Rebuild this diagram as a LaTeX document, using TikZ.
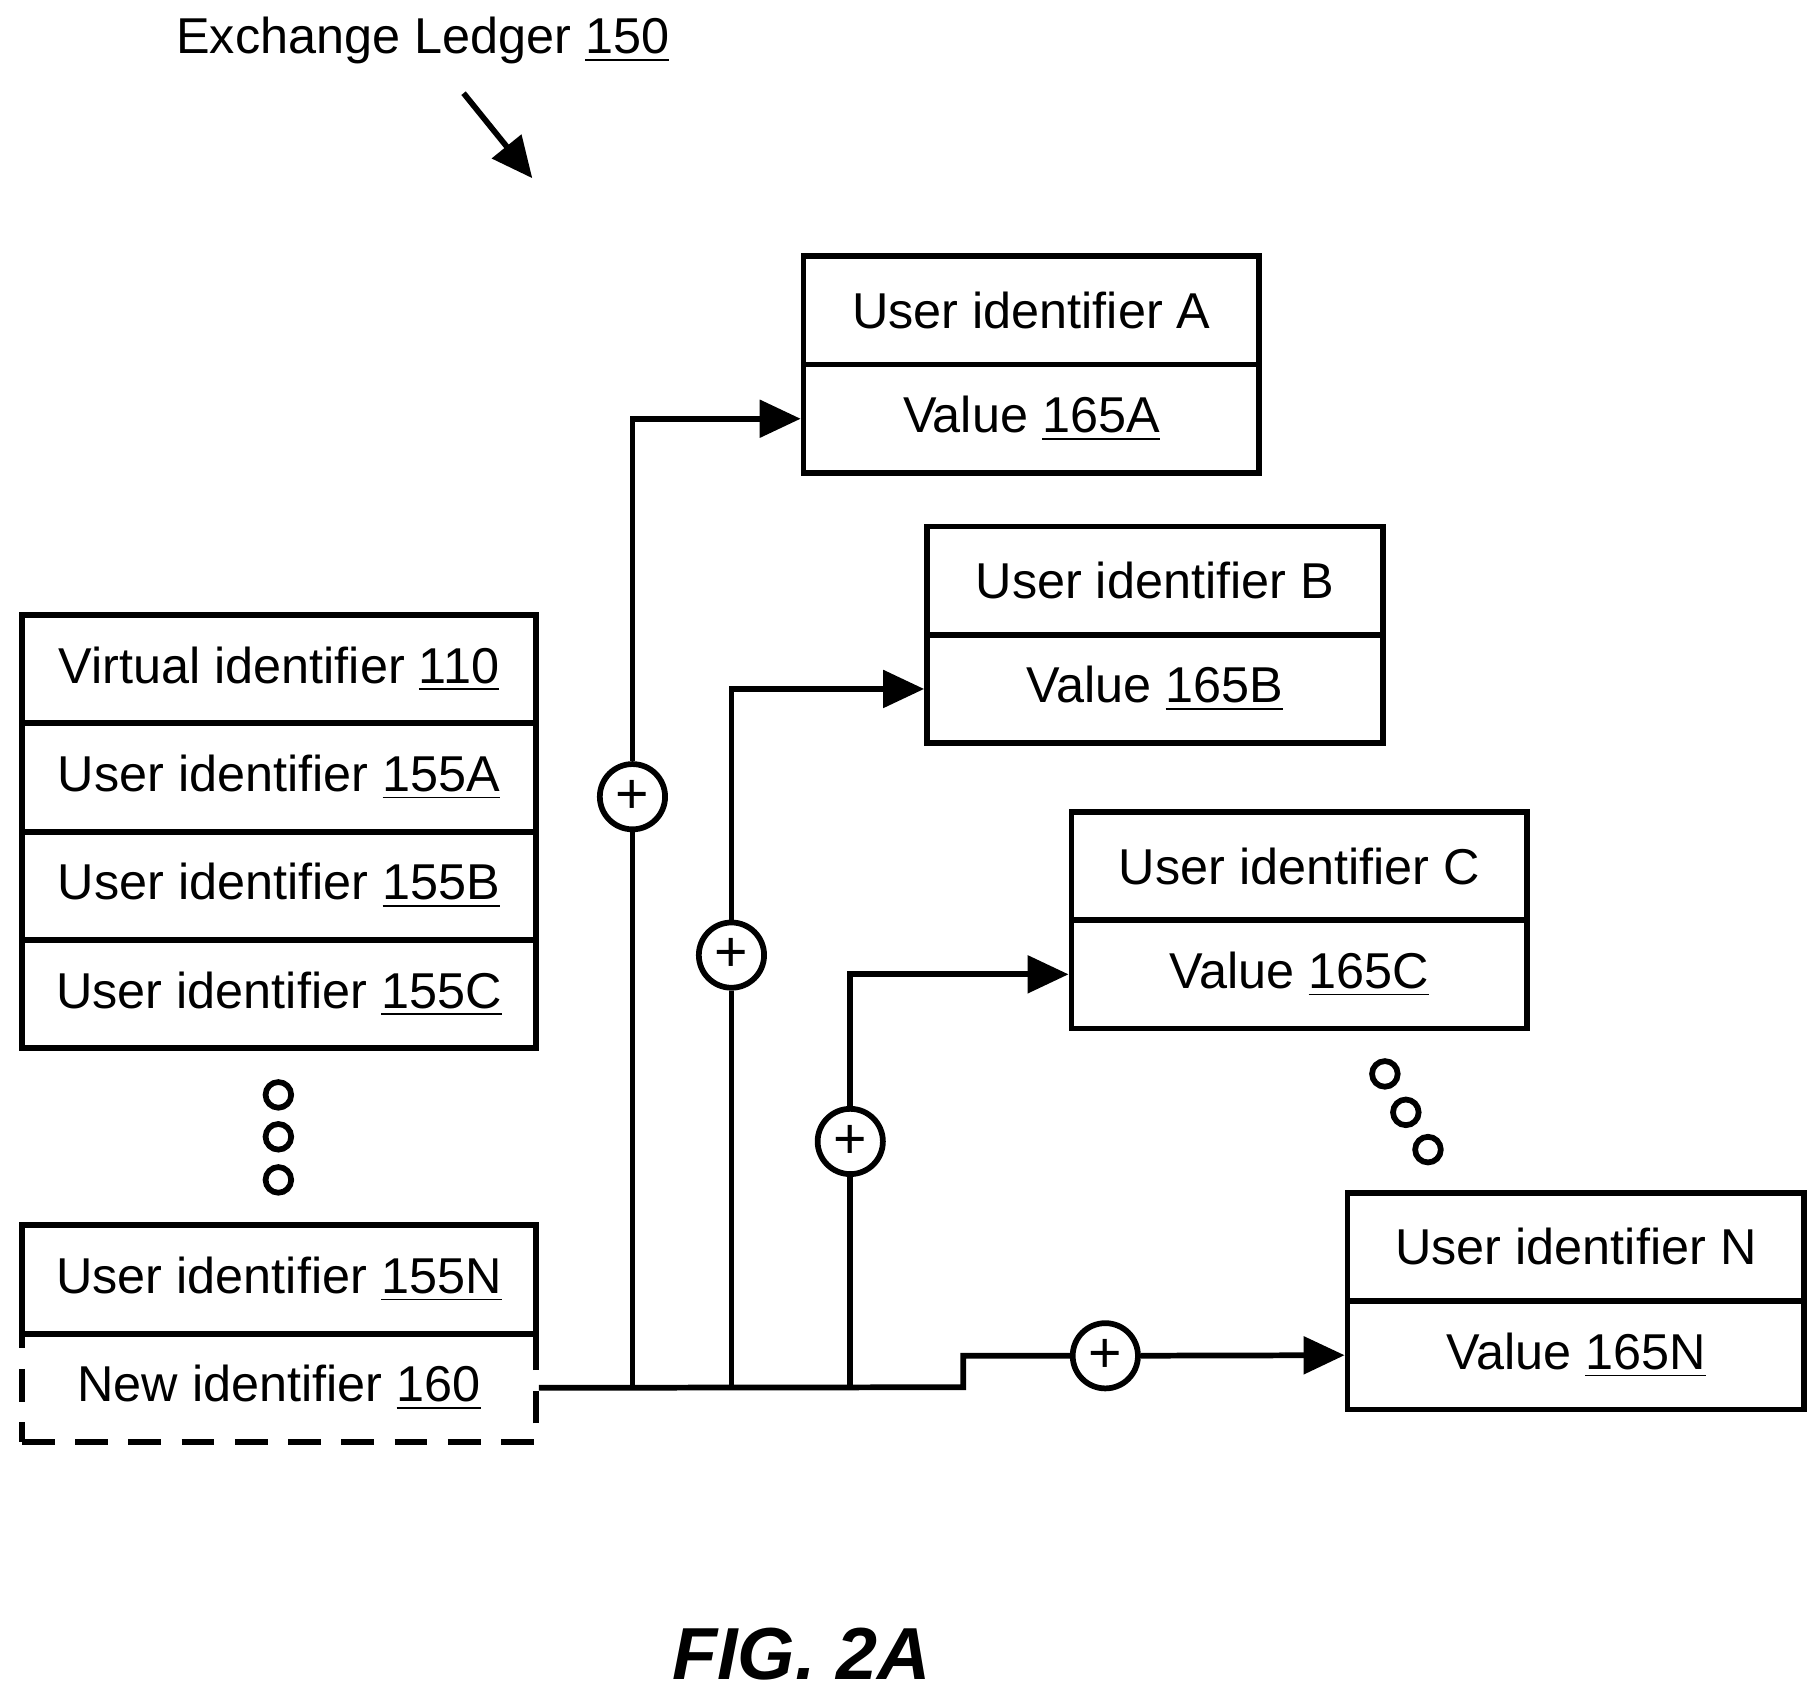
\documentclass[tikz,border=0pt]{standalone}
\usepackage{fontspec}
\setmainfont{Liberation Sans}
\usetikzlibrary{arrows.meta}
\tikzset{
  cell/.style={draw, line width=1.4pt, minimum width=4.41cm, minimum height=0.93cm,
    inner sep=0pt, font=\fontsize{12.3}{14}\selectfont},
  wire/.style={line width=1.4pt},
  feed/.style={wire, -{Triangle[length=10pt,width=9pt]}},
  plus/.style={draw, circle, line width=1.4pt, minimum size=0.56cm, inner sep=0pt,
    font=\fontsize{14}{14}\selectfont},
  dot/.style={draw, circle, line width=1.4pt, minimum size=0.22cm, inner sep=0pt}
}
\newcommand{\ul}[1]{\underline{#1}}
\begin{document}
\begin{tikzpicture}[x=0.01cm,y=-0.01cm]
  \useasboundingbox (0,0) rectangle (1560,1453);

  % Title
  \node[font=\fontsize{12.3}{14}\selectfont] (title) at (363,35) {Exchange Ledger \ul{150}};
  \coordinate (tA) at (398,80);
  \coordinate (tB) at (457,153);
  \draw[wire, -{Triangle[length=10pt,width=9pt]}] (tA) -- (tB);

  % Left stack
  \node[cell] (virt) at (239.5,574.5) {Virtual identifier \ul{110}};
  \node[cell] (u155a) at (239.5,667.5) {User identifier \ul{155A}};
  \node[cell] (u155b) at (239.5,760.5) {User identifier \ul{155B}};
  \node[cell] (u155c) at (239.5,853.5) {User identifier \ul{155C}};
  \node[dot] (d1) at (239,940) {};
  \node[dot] (d2) at (239,976) {};
  \node[dot] (d3) at (239,1013) {};
  \node[cell] (u155n) at (239.5,1098.5) {User identifier \ul{155N}};
  \node[cell, dash pattern=on 8pt off 5pt] (new) at (239.5,1191.5) {New identifier \ul{160}};

  % Right boxes
  \node[cell, minimum width=3.91cm] (ua) at (885.5,266.5) {User identifier A};
  \node[cell, minimum width=3.91cm] (va) at (885.5,359.5) {Value \ul{165A}};
  \node[cell, minimum width=3.91cm] (ub) at (991.5,498.5) {User identifier B};
  \node[cell, minimum width=3.91cm] (vb) at (991.5,591.5) {Value \ul{165B}};
  \node[cell, minimum width=3.91cm] (uc) at (1115.5,743.5) {User identifier C};
  \node[cell, minimum width=3.91cm] (vc) at (1115.5,836.5) {Value \ul{165C}};
  \node[dot] (e1) at (1189,922) {};
  \node[dot] (e2) at (1207,955) {};
  \node[dot] (e3) at (1226,987) {};
  \node[cell, minimum width=3.92cm] (un) at (1353,1070.5) {User identifier N};
  \node[cell, minimum width=3.92cm] (vn) at (1353,1163.5) {Value \ul{165N}};

  % Connectors
  \coordinate (jA) at (543,1191);
  \coordinate (jB) at (628,1191);
  \coordinate (jC) at (730,1191);
  \coordinate (step) at (827,1191);
  \node[plus] (pa) at (543,684) {+};
  \node[plus] (pb) at (628,820) {+};
  \node[plus] (pc) at (730,980) {+};
  \node[plus] (pn) at (949,1164) {+};

  \draw[wire] (new.east) -- (step) -- (step |- pn) -- (pn);
  \draw[feed] (pn) -- (vn.west);
  \draw[wire] (jA) -- (pa);
  \draw[feed] (pa) |- (va.west);
  \draw[wire] (jB) -- (pb);
  \draw[feed] (pb) |- (vb.west);
  \draw[wire] (jC) -- (pc);
  \draw[feed] (pc) |- (vc.west);

  % Caption
  \node[font=\fontsize{18}{20}\selectfont\bfseries\itshape] (fig) at (688,1420) {FIG. 2A};
\end{tikzpicture}
\end{document}
